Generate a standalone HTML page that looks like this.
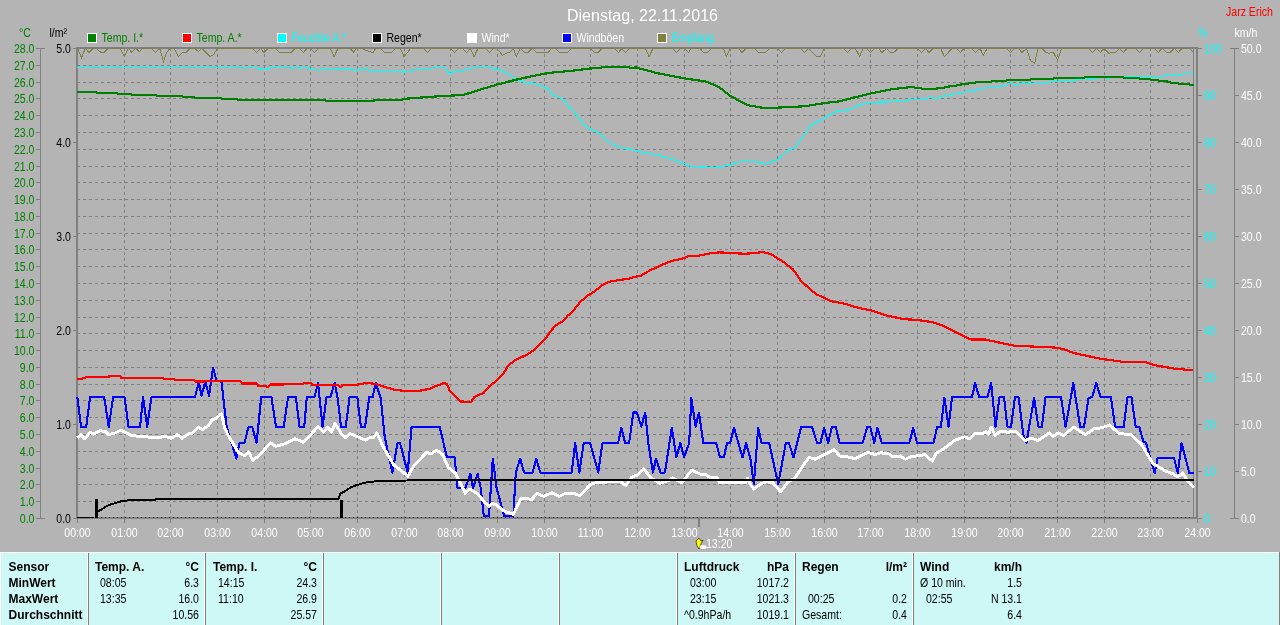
<!DOCTYPE html>
<html><head><meta charset="utf-8"><style>
html,body{margin:0;padding:0;background:#b4b4b4;width:1280px;height:625px;overflow:hidden}
svg{display:block;font-family:"Liberation Sans",sans-serif}
</style></head><body>
<svg style="will-change:transform" width="1280" height="625" viewBox="0 0 1280 625">
<rect width="1280" height="625" fill="#b4b4b4"/>
<path d="M77 65.5H1193 M77 82.5H1193 M77 98.5H1193 M77 115.5H1193 M77 132.5H1193 M77 149.5H1193 M77 166.5H1193 M77 182.5H1193 M77 199.5H1193 M77 216.5H1193 M77 233.5H1193 M77 249.5H1193 M77 266.5H1193 M77 283.5H1193 M77 300.5H1193 M77 317.5H1193 M77 333.5H1193 M77 350.5H1193 M77 367.5H1193 M77 384.5H1193 M77 400.5H1193 M77 417.5H1193 M77 434.5H1193 M77 451.5H1193 M77 468.5H1193 M77 484.5H1193 M77 501.5H1193" stroke="#808080" stroke-width="1" stroke-dasharray="3 3" fill="none"/>
<path d="M124.5 48V517 M170.5 48V517 M217.5 48V517 M264.5 48V517 M310.5 48V517 M357.5 48V517 M404.5 48V517 M450.5 48V517 M497.5 48V517 M544.5 48V517 M590.5 48V517 M637.5 48V517 M684.5 48V517 M730.5 48V517 M777.5 48V517 M824.5 48V517 M870.5 48V517 M917.5 48V517 M964.5 48V517 M1010.5 48V517 M1057.5 48V517 M1104.5 48V517 M1150.5 48V517" stroke="#808080" stroke-width="1" stroke-dasharray="3 3" fill="none"/>
<rect x="76" y="47" width="2" height="471" fill="#808080"/>
<rect x="76" y="47" width="1121" height="2" fill="#808080"/>
<rect x="1196" y="47" width="2" height="472" fill="#808080"/>
<rect x="1193" y="49" width="1" height="469" fill="#808080"/>
<rect x="73" y="518" width="1129" height="1" fill="#808080"/>
<rect x="76" y="517" width="1121" height="1" fill="#808080"/>
<rect x="73" y="48" width="3" height="1" fill="#808080"/>
<text transform="translate(71,53) scale(0.88,1)" fill="#000000" font-size="12" text-anchor="end" font-weight="normal" >5.0</text>
<rect x="73" y="142" width="3" height="1" fill="#808080"/>
<text transform="translate(71,147) scale(0.88,1)" fill="#000000" font-size="12" text-anchor="end" font-weight="normal" >4.0</text>
<rect x="73" y="236" width="3" height="1" fill="#808080"/>
<text transform="translate(71,241) scale(0.88,1)" fill="#000000" font-size="12" text-anchor="end" font-weight="normal" >3.0</text>
<rect x="73" y="330" width="3" height="1" fill="#808080"/>
<text transform="translate(71,335) scale(0.88,1)" fill="#000000" font-size="12" text-anchor="end" font-weight="normal" >2.0</text>
<rect x="73" y="424" width="3" height="1" fill="#808080"/>
<text transform="translate(71,429) scale(0.88,1)" fill="#000000" font-size="12" text-anchor="end" font-weight="normal" >1.0</text>
<rect x="73" y="518" width="3" height="1" fill="#808080"/>
<text transform="translate(71,523) scale(0.88,1)" fill="#000000" font-size="12" text-anchor="end" font-weight="normal" >0.0</text>
<rect x="40" y="48" width="1" height="471" fill="#808080"/>
<rect x="36" y="48" width="9" height="1" fill="#808080"/>
<text transform="translate(34.5,53) scale(0.88,1)" fill="#008000" font-size="12" text-anchor="end" font-weight="normal" >28.0</text>
<rect x="36" y="65" width="4" height="1" fill="#808080"/>
<text transform="translate(34.5,70) scale(0.88,1)" fill="#008000" font-size="12" text-anchor="end" font-weight="normal" >27.0</text>
<rect x="36" y="82" width="4" height="1" fill="#808080"/>
<text transform="translate(34.5,87) scale(0.88,1)" fill="#008000" font-size="12" text-anchor="end" font-weight="normal" >26.0</text>
<rect x="36" y="98" width="4" height="1" fill="#808080"/>
<text transform="translate(34.5,103) scale(0.88,1)" fill="#008000" font-size="12" text-anchor="end" font-weight="normal" >25.0</text>
<rect x="36" y="115" width="4" height="1" fill="#808080"/>
<text transform="translate(34.5,120) scale(0.88,1)" fill="#008000" font-size="12" text-anchor="end" font-weight="normal" >24.0</text>
<rect x="36" y="132" width="4" height="1" fill="#808080"/>
<text transform="translate(34.5,137) scale(0.88,1)" fill="#008000" font-size="12" text-anchor="end" font-weight="normal" >23.0</text>
<rect x="36" y="149" width="4" height="1" fill="#808080"/>
<text transform="translate(34.5,154) scale(0.88,1)" fill="#008000" font-size="12" text-anchor="end" font-weight="normal" >22.0</text>
<rect x="36" y="166" width="4" height="1" fill="#808080"/>
<text transform="translate(34.5,171) scale(0.88,1)" fill="#008000" font-size="12" text-anchor="end" font-weight="normal" >21.0</text>
<rect x="36" y="182" width="4" height="1" fill="#808080"/>
<text transform="translate(34.5,187) scale(0.88,1)" fill="#008000" font-size="12" text-anchor="end" font-weight="normal" >20.0</text>
<rect x="36" y="199" width="4" height="1" fill="#808080"/>
<text transform="translate(34.5,204) scale(0.88,1)" fill="#008000" font-size="12" text-anchor="end" font-weight="normal" >19.0</text>
<rect x="36" y="216" width="4" height="1" fill="#808080"/>
<text transform="translate(34.5,221) scale(0.88,1)" fill="#008000" font-size="12" text-anchor="end" font-weight="normal" >18.0</text>
<rect x="36" y="233" width="4" height="1" fill="#808080"/>
<text transform="translate(34.5,238) scale(0.88,1)" fill="#008000" font-size="12" text-anchor="end" font-weight="normal" >17.0</text>
<rect x="36" y="249" width="4" height="1" fill="#808080"/>
<text transform="translate(34.5,254) scale(0.88,1)" fill="#008000" font-size="12" text-anchor="end" font-weight="normal" >16.0</text>
<rect x="36" y="266" width="4" height="1" fill="#808080"/>
<text transform="translate(34.5,271) scale(0.88,1)" fill="#008000" font-size="12" text-anchor="end" font-weight="normal" >15.0</text>
<rect x="36" y="283" width="4" height="1" fill="#808080"/>
<text transform="translate(34.5,288) scale(0.88,1)" fill="#008000" font-size="12" text-anchor="end" font-weight="normal" >14.0</text>
<rect x="36" y="300" width="4" height="1" fill="#808080"/>
<text transform="translate(34.5,305) scale(0.88,1)" fill="#008000" font-size="12" text-anchor="end" font-weight="normal" >13.0</text>
<rect x="36" y="317" width="4" height="1" fill="#808080"/>
<text transform="translate(34.5,322) scale(0.88,1)" fill="#008000" font-size="12" text-anchor="end" font-weight="normal" >12.0</text>
<rect x="36" y="333" width="4" height="1" fill="#808080"/>
<text transform="translate(34.5,338) scale(0.88,1)" fill="#008000" font-size="12" text-anchor="end" font-weight="normal" >11.0</text>
<rect x="36" y="350" width="4" height="1" fill="#808080"/>
<text transform="translate(34.5,355) scale(0.88,1)" fill="#008000" font-size="12" text-anchor="end" font-weight="normal" >10.0</text>
<rect x="36" y="367" width="4" height="1" fill="#808080"/>
<text transform="translate(34.5,372) scale(0.88,1)" fill="#008000" font-size="12" text-anchor="end" font-weight="normal" >9.0</text>
<rect x="36" y="384" width="4" height="1" fill="#808080"/>
<text transform="translate(34.5,389) scale(0.88,1)" fill="#008000" font-size="12" text-anchor="end" font-weight="normal" >8.0</text>
<rect x="36" y="400" width="4" height="1" fill="#808080"/>
<text transform="translate(34.5,405) scale(0.88,1)" fill="#008000" font-size="12" text-anchor="end" font-weight="normal" >7.0</text>
<rect x="36" y="417" width="4" height="1" fill="#808080"/>
<text transform="translate(34.5,422) scale(0.88,1)" fill="#008000" font-size="12" text-anchor="end" font-weight="normal" >6.0</text>
<rect x="36" y="434" width="4" height="1" fill="#808080"/>
<text transform="translate(34.5,439) scale(0.88,1)" fill="#008000" font-size="12" text-anchor="end" font-weight="normal" >5.0</text>
<rect x="36" y="451" width="4" height="1" fill="#808080"/>
<text transform="translate(34.5,456) scale(0.88,1)" fill="#008000" font-size="12" text-anchor="end" font-weight="normal" >4.0</text>
<rect x="36" y="468" width="4" height="1" fill="#808080"/>
<text transform="translate(34.5,473) scale(0.88,1)" fill="#008000" font-size="12" text-anchor="end" font-weight="normal" >3.0</text>
<rect x="36" y="484" width="4" height="1" fill="#808080"/>
<text transform="translate(34.5,489) scale(0.88,1)" fill="#008000" font-size="12" text-anchor="end" font-weight="normal" >2.0</text>
<rect x="36" y="501" width="4" height="1" fill="#808080"/>
<text transform="translate(34.5,506) scale(0.88,1)" fill="#008000" font-size="12" text-anchor="end" font-weight="normal" >1.0</text>
<rect x="36" y="518" width="9" height="1" fill="#808080"/>
<text transform="translate(34.5,523) scale(0.88,1)" fill="#008000" font-size="12" text-anchor="end" font-weight="normal" >0.0</text>
<rect x="1234" y="48" width="1" height="471" fill="#808080"/>
<rect x="1198" y="48" width="4" height="1" fill="#808080"/>
<rect x="1230" y="48" width="9" height="1" fill="#808080"/>
<text transform="translate(1204,53) scale(0.88,1)" fill="#00ffff" font-size="12" text-anchor="start" font-weight="normal" >100</text>
<text transform="translate(1241,53) scale(0.88,1)" fill="#ffffff" font-size="12" text-anchor="start" font-weight="normal" >50.0</text>
<rect x="1198" y="95" width="4" height="1" fill="#808080"/>
<rect x="1235" y="95" width="4" height="1" fill="#808080"/>
<text transform="translate(1204,100) scale(0.88,1)" fill="#00ffff" font-size="12" text-anchor="start" font-weight="normal" >90</text>
<text transform="translate(1241,100) scale(0.88,1)" fill="#ffffff" font-size="12" text-anchor="start" font-weight="normal" >45.0</text>
<rect x="1198" y="142" width="4" height="1" fill="#808080"/>
<rect x="1235" y="142" width="4" height="1" fill="#808080"/>
<text transform="translate(1204,147) scale(0.88,1)" fill="#00ffff" font-size="12" text-anchor="start" font-weight="normal" >80</text>
<text transform="translate(1241,147) scale(0.88,1)" fill="#ffffff" font-size="12" text-anchor="start" font-weight="normal" >40.0</text>
<rect x="1198" y="189" width="4" height="1" fill="#808080"/>
<rect x="1235" y="189" width="4" height="1" fill="#808080"/>
<text transform="translate(1204,194) scale(0.88,1)" fill="#00ffff" font-size="12" text-anchor="start" font-weight="normal" >70</text>
<text transform="translate(1241,194) scale(0.88,1)" fill="#ffffff" font-size="12" text-anchor="start" font-weight="normal" >35.0</text>
<rect x="1198" y="236" width="4" height="1" fill="#808080"/>
<rect x="1235" y="236" width="4" height="1" fill="#808080"/>
<text transform="translate(1204,241) scale(0.88,1)" fill="#00ffff" font-size="12" text-anchor="start" font-weight="normal" >60</text>
<text transform="translate(1241,241) scale(0.88,1)" fill="#ffffff" font-size="12" text-anchor="start" font-weight="normal" >30.0</text>
<rect x="1198" y="283" width="4" height="1" fill="#808080"/>
<rect x="1235" y="283" width="4" height="1" fill="#808080"/>
<text transform="translate(1204,288) scale(0.88,1)" fill="#00ffff" font-size="12" text-anchor="start" font-weight="normal" >50</text>
<text transform="translate(1241,288) scale(0.88,1)" fill="#ffffff" font-size="12" text-anchor="start" font-weight="normal" >25.0</text>
<rect x="1198" y="330" width="4" height="1" fill="#808080"/>
<rect x="1235" y="330" width="4" height="1" fill="#808080"/>
<text transform="translate(1204,335) scale(0.88,1)" fill="#00ffff" font-size="12" text-anchor="start" font-weight="normal" >40</text>
<text transform="translate(1241,335) scale(0.88,1)" fill="#ffffff" font-size="12" text-anchor="start" font-weight="normal" >20.0</text>
<rect x="1198" y="377" width="4" height="1" fill="#808080"/>
<rect x="1235" y="377" width="4" height="1" fill="#808080"/>
<text transform="translate(1204,382) scale(0.88,1)" fill="#00ffff" font-size="12" text-anchor="start" font-weight="normal" >30</text>
<text transform="translate(1241,382) scale(0.88,1)" fill="#ffffff" font-size="12" text-anchor="start" font-weight="normal" >15.0</text>
<rect x="1198" y="424" width="4" height="1" fill="#808080"/>
<rect x="1235" y="424" width="4" height="1" fill="#808080"/>
<text transform="translate(1204,429) scale(0.88,1)" fill="#00ffff" font-size="12" text-anchor="start" font-weight="normal" >20</text>
<text transform="translate(1241,429) scale(0.88,1)" fill="#ffffff" font-size="12" text-anchor="start" font-weight="normal" >10.0</text>
<rect x="1198" y="471" width="4" height="1" fill="#808080"/>
<rect x="1235" y="471" width="4" height="1" fill="#808080"/>
<text transform="translate(1204,476) scale(0.88,1)" fill="#00ffff" font-size="12" text-anchor="start" font-weight="normal" >10</text>
<text transform="translate(1241,476) scale(0.88,1)" fill="#ffffff" font-size="12" text-anchor="start" font-weight="normal" >5.0</text>
<rect x="1198" y="518" width="4" height="1" fill="#808080"/>
<rect x="1230" y="518" width="9" height="1" fill="#808080"/>
<text transform="translate(1204,523) scale(0.88,1)" fill="#00ffff" font-size="12" text-anchor="start" font-weight="normal" >0</text>
<text transform="translate(1241,523) scale(0.88,1)" fill="#ffffff" font-size="12" text-anchor="start" font-weight="normal" >0.0</text>
<rect x="77" y="519" width="1" height="4" fill="#808080"/>
<text transform="translate(77.5,537) scale(0.88,1)" fill="#ffffff" font-size="12" text-anchor="middle" font-weight="normal" >00:00</text>
<rect x="124" y="519" width="1" height="4" fill="#808080"/>
<text transform="translate(124.5,537) scale(0.88,1)" fill="#ffffff" font-size="12" text-anchor="middle" font-weight="normal" >01:00</text>
<rect x="170" y="519" width="1" height="4" fill="#808080"/>
<text transform="translate(170.5,537) scale(0.88,1)" fill="#ffffff" font-size="12" text-anchor="middle" font-weight="normal" >02:00</text>
<rect x="217" y="519" width="1" height="4" fill="#808080"/>
<text transform="translate(217.5,537) scale(0.88,1)" fill="#ffffff" font-size="12" text-anchor="middle" font-weight="normal" >03:00</text>
<rect x="264" y="519" width="1" height="4" fill="#808080"/>
<text transform="translate(264.5,537) scale(0.88,1)" fill="#ffffff" font-size="12" text-anchor="middle" font-weight="normal" >04:00</text>
<rect x="310" y="519" width="1" height="4" fill="#808080"/>
<text transform="translate(310.5,537) scale(0.88,1)" fill="#ffffff" font-size="12" text-anchor="middle" font-weight="normal" >05:00</text>
<rect x="357" y="519" width="1" height="4" fill="#808080"/>
<text transform="translate(357.5,537) scale(0.88,1)" fill="#ffffff" font-size="12" text-anchor="middle" font-weight="normal" >06:00</text>
<rect x="404" y="519" width="1" height="4" fill="#808080"/>
<text transform="translate(404.5,537) scale(0.88,1)" fill="#ffffff" font-size="12" text-anchor="middle" font-weight="normal" >07:00</text>
<rect x="450" y="519" width="1" height="4" fill="#808080"/>
<text transform="translate(450.5,537) scale(0.88,1)" fill="#ffffff" font-size="12" text-anchor="middle" font-weight="normal" >08:00</text>
<rect x="497" y="519" width="1" height="4" fill="#808080"/>
<text transform="translate(497.5,537) scale(0.88,1)" fill="#ffffff" font-size="12" text-anchor="middle" font-weight="normal" >09:00</text>
<rect x="544" y="519" width="1" height="4" fill="#808080"/>
<text transform="translate(544.5,537) scale(0.88,1)" fill="#ffffff" font-size="12" text-anchor="middle" font-weight="normal" >10:00</text>
<rect x="590" y="519" width="1" height="4" fill="#808080"/>
<text transform="translate(590.5,537) scale(0.88,1)" fill="#ffffff" font-size="12" text-anchor="middle" font-weight="normal" >11:00</text>
<rect x="637" y="519" width="1" height="4" fill="#808080"/>
<text transform="translate(637.5,537) scale(0.88,1)" fill="#ffffff" font-size="12" text-anchor="middle" font-weight="normal" >12:00</text>
<rect x="684" y="519" width="1" height="4" fill="#808080"/>
<text transform="translate(684.5,537) scale(0.88,1)" fill="#ffffff" font-size="12" text-anchor="middle" font-weight="normal" >13:00</text>
<rect x="730" y="519" width="1" height="4" fill="#808080"/>
<text transform="translate(730.5,537) scale(0.88,1)" fill="#ffffff" font-size="12" text-anchor="middle" font-weight="normal" >14:00</text>
<rect x="777" y="519" width="1" height="4" fill="#808080"/>
<text transform="translate(777.5,537) scale(0.88,1)" fill="#ffffff" font-size="12" text-anchor="middle" font-weight="normal" >15:00</text>
<rect x="824" y="519" width="1" height="4" fill="#808080"/>
<text transform="translate(824.5,537) scale(0.88,1)" fill="#ffffff" font-size="12" text-anchor="middle" font-weight="normal" >16:00</text>
<rect x="870" y="519" width="1" height="4" fill="#808080"/>
<text transform="translate(870.5,537) scale(0.88,1)" fill="#ffffff" font-size="12" text-anchor="middle" font-weight="normal" >17:00</text>
<rect x="917" y="519" width="1" height="4" fill="#808080"/>
<text transform="translate(917.5,537) scale(0.88,1)" fill="#ffffff" font-size="12" text-anchor="middle" font-weight="normal" >18:00</text>
<rect x="964" y="519" width="1" height="4" fill="#808080"/>
<text transform="translate(964.5,537) scale(0.88,1)" fill="#ffffff" font-size="12" text-anchor="middle" font-weight="normal" >19:00</text>
<rect x="1010" y="519" width="1" height="4" fill="#808080"/>
<text transform="translate(1010.5,537) scale(0.88,1)" fill="#ffffff" font-size="12" text-anchor="middle" font-weight="normal" >20:00</text>
<rect x="1057" y="519" width="1" height="4" fill="#808080"/>
<text transform="translate(1057.5,537) scale(0.88,1)" fill="#ffffff" font-size="12" text-anchor="middle" font-weight="normal" >21:00</text>
<rect x="1104" y="519" width="1" height="4" fill="#808080"/>
<text transform="translate(1104.5,537) scale(0.88,1)" fill="#ffffff" font-size="12" text-anchor="middle" font-weight="normal" >22:00</text>
<rect x="1150" y="519" width="1" height="4" fill="#808080"/>
<text transform="translate(1150.5,537) scale(0.88,1)" fill="#ffffff" font-size="12" text-anchor="middle" font-weight="normal" >23:00</text>
<rect x="1197" y="519" width="1" height="4" fill="#808080"/>
<text transform="translate(1197.5,537) scale(0.88,1)" fill="#ffffff" font-size="12" text-anchor="middle" font-weight="normal" >24:00</text>
<text transform="translate(19,37) scale(0.88,1)" fill="#008000" font-size="12" text-anchor="start" font-weight="normal" >°C</text>
<text transform="translate(49.5,37) scale(0.88,1)" fill="#000000" font-size="12" text-anchor="start" font-weight="normal" >l/m²</text>
<text transform="translate(1198,37) scale(0.88,1)" fill="#00ffff" font-size="12" text-anchor="start" font-weight="normal" >%</text>
<text transform="translate(1234.5,37) scale(0.88,1)" fill="#ffffff" font-size="12" text-anchor="start" font-weight="normal" >km/h</text>
<text transform="translate(567,21) scale(1.0,1)" fill="#ffffff" font-size="16" text-anchor="start" font-weight="normal" >Dienstag, 22.11.2016</text>
<text transform="translate(1226,16) scale(0.88,1)" fill="#ff0000" font-size="12" text-anchor="start" font-weight="normal" >Jarz Erich</text>
<rect x="87" y="33" width="10" height="10" fill="#ffffff"/>
<rect x="88" y="34" width="8" height="8" fill="#008000"/>
<text transform="translate(101.5,42) scale(0.88,1)" fill="#008000" font-size="12" text-anchor="start" font-weight="normal" >Temp. I.*</text>
<rect x="182" y="33" width="10" height="10" fill="#ffffff"/>
<rect x="183" y="34" width="8" height="8" fill="#ff0000"/>
<text transform="translate(196.5,42) scale(0.88,1)" fill="#008000" font-size="12" text-anchor="start" font-weight="normal" >Temp. A.*</text>
<rect x="277" y="33" width="10" height="10" fill="#ffffff"/>
<rect x="278" y="34" width="8" height="8" fill="#00ffff"/>
<text transform="translate(291.5,42) scale(0.88,1)" fill="#00ffff" font-size="12" text-anchor="start" font-weight="normal" >Feuchte A.*</text>
<rect x="372" y="33" width="10" height="10" fill="#ffffff"/>
<rect x="373" y="34" width="8" height="8" fill="#000000"/>
<text transform="translate(386.5,42) scale(0.88,1)" fill="#000000" font-size="12" text-anchor="start" font-weight="normal" >Regen*</text>
<rect x="467" y="33" width="10" height="10" fill="#ffffff"/>
<rect x="468" y="34" width="8" height="8" fill="#ffffff"/>
<text transform="translate(481.5,42) scale(0.88,1)" fill="#ffffff" font-size="12" text-anchor="start" font-weight="normal" >Wind*</text>
<rect x="562" y="33" width="10" height="10" fill="#ffffff"/>
<rect x="563" y="34" width="8" height="8" fill="#0000ff"/>
<text transform="translate(576.5,42) scale(0.88,1)" fill="#ffffff" font-size="12" text-anchor="start" font-weight="normal" >Windböen</text>
<rect x="657" y="33" width="10" height="10" fill="#ffffff"/>
<rect x="658" y="34" width="8" height="8" fill="#808040"/>
<text transform="translate(671.5,42) scale(0.88,1)" fill="#00ffff" font-size="12" text-anchor="start" font-weight="normal" >Empfang</text>
<path shape-rendering="crispEdges" d="M77.6 48.4 L81.5 57.7 L85.3 48.4 L89.1 52.5 L93.0 48.4 L96.2 48.4 L100.6 52.2 L104.4 52.2 L108.3 48.4 L120.3 48.4 L124.1 56.0 L128.5 48.4 L131.8 52.5 L135.6 48.4 L139.4 51.7 L142.7 48.4 L151.5 48.4 L155.8 52.5 L159.7 48.4 L163.5 61.5 L166.8 52.2 L170.1 48.4 L174.4 48.4 L178.3 56.6 L182.6 52.2 L186.5 52.2 L190.3 48.4 L194.7 48.4 L198.5 51.7 L201.8 48.4 L210.0 56.6 L213.3 54.9 L217.6 48.4 L252.6 48.4 L256.5 52.5 L260.3 48.4 L264.1 52.5 L268.0 48.4 L275.6 48.4 L279.4 52.2 L291.5 52.2 L295.3 48.4 L299.7 48.4 L303.5 52.5 L306.8 48.4 L310.6 48.4 L314.4 52.5 L318.3 48.4 L330.3 48.4 L334.1 56.6 L338.0 48.4 L350.0 48.4 L353.8 52.5 L356.0 48.4 L362.6 48.4 L365.8 50.3 L369.1 51.4 L373.0 52.5 L375.7 48.4 L380.6 48.4 L384.4 52.2 L392.1 52.2 L395.9 48.4 L400.3 48.4 L404.1 56.6 L410.7 48.4 L423.8 48.4 L427.6 52.5 L431.5 48.4 L450.6 48.4 L454.4 52.5 L458.3 48.4 L462.6 48.4 L466.5 52.5 L470.3 48.4 L474.1 56.6 L478.0 48.4 L485.6 48.4 L489.4 52.5 L493.3 48.4 L496.0 48.4 L498.2 50.0 L502.6 55.5 L505.8 53.3 L509.7 52.2 L513.5 48.4 L516.2 56.6 L520.1 48.4 L524.4 52.2 L528.3 52.2 L532.1 48.4 L536.5 52.2 L548.5 52.2 L551.2 48.4 L555.6 48.4 L559.4 52.2 L567.6 52.2 L571.5 48.4 L590.6 48.4 L594.4 52.2 L598.3 52.2 L602.1 48.4 L614.7 48.4 L618.5 52.5 L621.8 48.4 L625.6 52.5 L629.4 48.4 L645.3 48.4 L649.1 56.6 L653.0 48.4 L672.6 48.4 L676.5 52.5 L680.3 48.4 L684.7 48.4 L688.5 52.5 L691.2 48.4 L700.0 48.4 L703.3 52.2 L707.6 52.2 L711.5 48.4 L723.5 48.4 L726.2 56.6 L730.1 48.4 L738.3 48.4 L742.1 52.5 L745.9 48.4 L754.7 48.4 L758.5 52.2 L765.6 52.2 L769.4 48.4 L777.6 48.4 L781.5 52.5 L785.3 48.4 L800.6 48.4 L804.4 52.5 L808.3 48.4 L816.5 56.6 L820.3 56.6 L824.1 48.4 L843.8 48.4 L847.6 52.5 L851.5 48.4 L855.3 48.4 L859.7 56.6 L863.0 48.4 L866.8 48.4 L870.6 52.5 L874.4 48.4 L878.3 48.4 L882.1 52.5 L886.5 48.4 L890.3 52.2 L894.1 52.2 L898.0 48.4 L917.6 48.4 L921.5 52.5 L925.3 48.4 L929.1 52.5 L933.0 48.4 L940.6 48.4 L944.4 56.6 L952.1 48.4 L956.5 48.4 L960.3 52.5 L964.1 48.4 L971.8 48.4 L975.6 52.5 L980.0 48.4 L983.3 55.5 L987.1 48.4 L1006.8 48.4 L1010.6 52.5 L1014.4 48.4 L1018.3 48.4 L1022.1 52.5 L1026.5 48.4 L1030.3 60.4 L1034.7 63.1 L1038.0 48.4 L1041.8 48.4 L1045.6 52.2 L1049.4 53.3 L1053.3 52.2 L1057.6 60.4 L1059.3 54.9 L1061.5 48.4 L1088.3 48.4 L1092.6 52.5 L1096.5 48.4 L1100.3 52.5 L1104.1 48.4 L1109.0 53.6 L1110.7 52.2 L1115.6 52.2 L1119.4 48.4 L1123.3 52.5 L1127.1 48.4 L1135.3 48.4 L1139.7 52.5 L1143.5 48.4 L1154.4 48.4 L1158.3 52.5 L1162.1 48.4 L1166.5 52.2 L1170.3 52.2 L1174.1 48.4 L1178.5 52.5 L1181.8 48.4 L1189.4 48.4 L1192.7 51.7" stroke="#808040" stroke-width="1" fill="none"/>
<path shape-rendering="crispEdges" d="M77.0 67.4 L243.0 67.4 L243.5 68.3 L246.8 68.3 L247.2 67.4 L257.6 67.4 L258.5 69.0 L261.8 69.0 L262.2 68.3 L267.0 68.3 L267.9 69.4 L271.6 66.4 L273.5 66.4 L274.4 67.4 L289.9 67.4 L290.4 68.3 L292.7 68.3 L293.2 67.4 L297.9 67.4 L298.3 68.3 L300.7 68.3 L301.1 67.4 L308.2 67.4 L308.6 69.2 L316.6 69.2 L317.1 70.2 L319.9 70.2 L320.4 69.2 L323.6 69.2 L324.1 68.3 L336.8 68.3 L337.2 69.2 L339.6 69.2 L340.0 68.3 L343.8 68.3 L344.2 69.2 L346.6 69.2 L347.0 68.3 L350.8 68.3 L351.3 69.2 L353.2 69.2 L353.6 70.2 L356.0 70.4 L359.3 69.6 L363.7 68.2 L366.4 68.2 L369.1 70.4 L378.4 70.4 L379.5 71.3 L397.6 71.3 L398.7 70.4 L401.4 70.4 L404.7 72.6 L406.9 71.3 L409.6 71.3 L410.7 70.4 L412.9 70.4 L414.0 69.3 L420.5 69.3 L421.6 68.4 L432.6 68.4 L433.7 67.4 L443.5 67.4 L445.7 68.7 L450.3 74.2 L452.8 72.2 L455.0 71.3 L459.4 71.3 L460.4 70.4 L463.7 70.4 L464.8 69.3 L468.1 69.3 L468.7 68.4 L471.9 68.4 L472.5 67.4 L491.6 67.4 L492.7 68.4 L496.0 69.0 L500.4 70.1 L506.9 73.0 L511.3 75.8 L514.6 78.2 L520.1 81.0 L525.5 82.6 L534.3 83.4 L539.7 85.6 L545.2 87.3 L548.5 89.5 L551.8 93.3 L557.2 97.1 L562.7 98.7 L567.6 104.8 L577.0 115.5 L585.7 126.4 L601.0 134.5 L606.5 140.6 L618.5 147.2 L636.0 150.5 L646.9 153.3 L657.9 154.9 L675.4 160.3 L690.7 166.2 L699.4 166.9 L714.8 167.5 L727.9 165.4 L741.0 161.4 L754.1 161.4 L765.1 164.3 L778.2 159.2 L789.1 149.4 L794.6 148.3 L811.0 125.3 L822.0 119.9 L826.3 116.6 L837.3 111.1 L850.4 109.6 L857.0 105.6 L870.1 102.3 L887.6 101.9 L916.0 99.3 L922.6 99.3 L923.1 98.4 L926.9 98.4 L927.5 97.4 L931.9 97.4 L932.4 98.4 L937.3 98.4 L937.9 97.4 L940.6 97.4 L941.2 96.5 L942.8 96.5 L943.4 95.4 L946.6 95.4 L947.7 96.5 L948.8 95.4 L951.0 95.4 L951.6 94.3 L953.7 94.3 L954.3 93.3 L958.1 93.3 L958.7 92.4 L964.7 92.4 L965.2 91.3 L966.9 91.3 L967.4 90.2 L969.6 90.2 L971.2 91.6 L972.9 90.2 L975.1 90.2 L975.6 89.1 L977.3 89.1 L977.8 88.3 L984.9 88.3 L985.5 87.3 L997.0 87.3 L997.5 86.4 L1001.3 86.4 L1001.9 85.3 L1004.6 85.3 L1005.2 84.2 L1007.9 84.2 L1008.5 83.3 L1012.8 83.3 L1013.4 84.2 L1019.4 84.2 L1019.9 83.3 L1028.7 83.3 L1029.8 84.2 L1031.4 83.3 L1035.8 83.3 L1036.3 82.4 L1050.6 82.4 L1051.1 81.3 L1056.0 81.3 L1073.5 81.4 L1074.0 80.5 L1075.7 80.5 L1076.2 79.4 L1081.7 79.4 L1085.0 78.3 L1086.6 78.3 L1087.2 79.4 L1089.4 79.4 L1089.9 78.7 L1098.1 78.7 L1099.0 77.5 L1106.0 77.5 L1106.9 78.7 L1109.6 78.7 L1110.5 77.0 L1132.6 77.0 L1133.1 76.3 L1163.8 76.3 L1164.3 75.4 L1167.6 75.4 L1168.1 74.3 L1172.5 74.3 L1173.1 75.4 L1179.6 75.4 L1180.2 74.3 L1182.9 74.3 L1183.5 73.4 L1191.7 73.4 L1192.8 74.8" stroke="#00ffff" stroke-width="1.2" fill="none"/>
<path shape-rendering="crispEdges" d="M77.0 92.0 L96.0 92.0 L97.0 93.0 L117.0 93.0 L118.0 94.0 L131.0 94.0 L132.0 95.0 L156.0 95.0 L157.0 96.0 L182.0 96.0 L183.0 97.0 L194.0 97.0 L195.0 98.0 L221.0 98.0 L222.0 99.0 L237.0 99.0 L238.0 99.6 L325.0 99.6 L326.0 100.8 L373.5 101.0 L374.5 100.0 L400.3 100.0 L404.7 98.8 L415.6 98.0 L427.6 97.0 L443.5 96.0 L462.1 95.0 L466.5 93.9 L470.8 92.8 L475.2 91.2 L479.6 89.7 L485.0 88.2 L489.4 86.8 L493.8 85.7 L496.0 84.7 L502.6 83.2 L510.2 81.2 L517.9 79.3 L528.8 76.9 L539.7 74.7 L549.6 72.8 L559.4 72.0 L568.2 71.1 L580.2 69.8 L587.9 68.7 L598.8 67.9 L607.6 66.7 L628.3 66.7 L629.4 67.8 L636.0 67.5 L657.9 73.3 L684.1 78.3 L706.0 81.6 L719.1 87.0 L730.0 95.8 L747.6 105.2 L762.9 107.8 L773.8 107.8 L804.5 106.3 L826.3 102.8 L839.5 101.3 L854.8 97.3 L870.1 93.6 L892.0 89.2 L911.6 87.0 L916.0 87.8 L920.9 87.8 L921.5 88.8 L936.8 88.8 L937.3 87.8 L944.4 87.8 L945.0 86.7 L948.8 86.7 L949.4 85.9 L956.5 85.9 L957.0 84.8 L960.9 84.8 L961.4 83.7 L968.5 83.7 L969.0 82.9 L975.6 82.9 L976.2 81.8 L991.5 81.8 L992.0 80.7 L1006.8 80.7 L1007.3 79.6 L1030.9 79.6 L1031.4 78.8 L1053.3 78.8 L1053.8 77.9 L1056.0 77.9 L1084.4 77.9 L1085.0 76.8 L1123.3 76.8 L1123.8 77.9 L1139.1 77.9 L1139.7 79.0 L1150.1 79.0 L1150.6 79.8 L1158.3 79.8 L1158.8 80.9 L1166.5 80.9 L1167.0 82.0 L1170.3 82.0 L1170.8 83.1 L1178.0 83.1 L1178.5 83.9 L1188.9 83.9 L1189.5 84.9 L1193.9 84.9" stroke="#008000" stroke-width="2.2" fill="none" stroke-linejoin="round"/>
<path shape-rendering="crispEdges" d="M77.3 397.1 L81.1 427.0 L86.2 427.0 L90.1 397.1 L104.2 397.1 L108.8 427.0 L113.1 397.1 L124.6 397.1 L128.5 427.0 L140.0 427.0 L143.1 397.1 L147.2 427.0 L151.5 397.1 L195.0 397.1 L198.9 381.8 L201.4 395.8 L205.3 381.8 L209.1 395.8 L213.1 367.7 L216.4 380.5 L221.5 381.8 L226.6 426.6 L230.5 439.4 L236.4 458.6 L239.4 443.0 L244.6 443.0 L248.4 427.0 L252.2 427.0 L256.6 443.0 L261.2 397.1 L271.4 397.1 L276.0 427.0 L283.7 427.0 L288.1 397.1 L295.8 397.1 L299.6 427.0 L304.2 427.0 L306.8 397.1 L314.5 397.1 L318.0 383.0 L322.6 427.0 L326.5 397.1 L330.3 397.1 L334.7 383.0 L337.5 397.1 L341.1 427.0 L345.7 427.0 L349.6 397.1 L357.3 397.1 L360.9 427.0 L365.0 427.0 L369.3 397.1 L372.6 397.1 L375.7 383.0 L380.8 398.4 L384.7 436.8 L392.4 472.6 L397.5 443.0 L400.0 443.0 L407.7 472.6 L411.6 427.0 L439.7 427.0 L446.9 457.3 L454.6 457.3 L457.6 488.0 L465.3 488.0 L470.4 473.9 L473.0 488.0 L477.6 473.9 L480.7 488.0 L483.8 516.2 L489.0 516.2 L492.8 458.6 L496.6 488.0 L504.3 516.2 L513.3 516.2 L515.8 472.6 L520.2 458.6 L524.0 472.6 L532.5 472.6 L536.3 458.6 L540.2 472.6 L571.7 472.6 L575.2 443.0 L579.3 472.6 L583.7 443.0 L590.1 443.0 L598.3 472.6 L602.4 443.0 L618.1 443.0 L621.4 427.8 L625.2 443.0 L629.1 443.0 L633.4 412.5 L636.8 412.5 L641.4 426.6 L645.2 412.5 L648.3 443.0 L652.9 472.6 L656.0 458.6 L660.6 472.6 L664.9 472.6 L671.8 427.8 L676.4 457.3 L680.3 443.0 L684.1 457.3 L689.2 443.0 L691.3 397.9 L695.6 426.6 L699.0 412.5 L703.3 443.0 L716.1 443.0 L720.0 457.3 L723.8 457.3 L727.1 443.0 L730.2 443.0 L734.0 427.8 L742.5 457.3 L746.1 443.0 L750.7 460.0 L753.8 484.2 L758.2 427.8 L761.5 443.0 L769.2 443.0 L778.2 484.2 L785.8 443.0 L788.9 443.0 L793.5 457.3 L801.2 427.0 L812.0 427.0 L817.1 443.0 L820.4 443.0 L824.2 427.8 L828.1 443.0 L831.9 427.0 L835.8 427.0 L839.6 443.0 L862.6 443.0 L867.3 427.0 L870.3 427.0 L874.2 443.0 L877.5 427.8 L881.8 443.0 L909.3 443.0 L913.2 427.8 L917.0 443.0 L933.6 443.0 L937.0 427.0 L940.8 427.0 L944.4 397.9 L948.5 427.0 L952.1 397.1 L972.0 397.1 L975.1 383.0 L979.2 397.1 L987.4 397.1 L991.2 383.0 L995.6 427.0 L999.4 397.1 L1004.0 397.1 L1007.4 427.0 L1011.0 427.0 L1015.0 397.1 L1018.6 397.1 L1023.2 434.2 L1026.4 443.0 L1034.1 397.9 L1038.4 427.0 L1041.8 427.0 L1045.6 397.1 L1061.0 397.1 L1065.6 427.0 L1073.3 383.0 L1080.2 427.0 L1084.0 427.0 L1088.6 397.9 L1092.2 397.1 L1096.3 383.0 L1100.6 397.1 L1110.9 397.1 L1115.2 427.0 L1123.7 427.0 L1127.5 397.1 L1131.4 397.1 L1135.7 427.0 L1139.4 427.0 L1143.2 441.3 L1146.1 443.0 L1154.7 473.0 L1157.6 457.6 L1173.9 457.6 L1177.8 473.0 L1181.6 443.0 L1189.3 473.0 L1193.7 473.0" stroke="#0000ff" stroke-width="2.1" fill="none" stroke-linejoin="round"/>
<path shape-rendering="crispEdges" d="M77.4 437.6 L80.8 434.8 L84.8 438.9 L90.3 432.1 L93.7 434.1 L99.8 430.7 L105.3 431.4 L108.7 434.6 L115.5 432.8 L120.9 430.0 L127.7 433.5 L131.8 435.5 L144.0 436.9 L160.4 437.3 L164.4 436.2 L171.2 438.2 L177.4 434.6 L182.1 438.2 L188.9 433.5 L191.6 434.0 L198.4 427.3 L202.5 429.4 L208.7 425.3 L212.0 419.9 L216.0 418.5 L221.4 413.7 L224.8 428.0 L228.2 435.5 L238.4 452.4 L244.6 455.9 L248.7 451.8 L252.7 460.6 L259.5 455.2 L265.0 449.0 L270.4 442.9 L275.9 446.3 L285.4 443.6 L294.9 438.8 L303.1 442.2 L311.2 434.0 L318.0 426.7 L323.5 432.1 L327.6 427.3 L331.6 432.1 L335.0 423.3 L341.2 433.5 L345.3 437.6 L350.0 433.5 L356.0 436.2 L365.4 440.1 L370.4 437.2 L373.3 437.9 L376.9 432.9 L383.4 447.3 L393.5 464.6 L407.9 476.1 L413.6 466.0 L426.6 452.3 L430.9 453.8 L436.7 450.2 L442.5 454.5 L448.2 467.5 L455.4 473.2 L465.5 493.4 L469.8 489.1 L477.0 493.4 L488.6 506.4 L492.2 503.5 L496.0 504.9 L504.6 511.4 L513.3 514.3 L521.2 498.4 L532.0 499.2 L537.1 493.4 L543.6 496.3 L552.2 492.7 L559.4 496.3 L565.2 493.4 L573.8 493.4 L579.6 495.6 L591.1 484.0 L596.9 482.6 L619.9 481.2 L625.7 485.5 L631.6 477.3 L638.0 474.7 L643.7 468.8 L650.8 477.8 L659.8 483.4 L668.8 480.3 L672.6 477.8 L681.6 482.9 L691.8 470.1 L700.0 474.0 L704.8 474.0 L709.6 477.2 L716.8 477.2 L719.4 482.8 L745.6 482.8 L747.5 478.5 L749.5 482.8 L753.8 489.0 L761.5 483.5 L766.6 481.6 L773.0 482.9 L780.7 491.8 L787.1 482.9 L794.8 477.8 L808.9 457.3 L815.3 459.3 L824.2 454.7 L834.5 449.6 L839.6 456.0 L847.3 456.8 L855.0 458.6 L867.8 452.2 L875.4 454.7 L880.6 452.7 L890.0 454.2 L892.7 456.8 L900.4 456.0 L905.5 459.3 L910.6 456.8 L924.7 454.7 L932.4 461.1 L936.2 453.4 L946.4 447.0 L954.1 440.6 L964.4 436.8 L969.5 438.9 L975.9 433.0 L982.3 433.7 L986.1 431.7 L988.7 434.2 L991.2 427.0 L995.1 435.5 L1000.2 431.2 L1007.9 432.2 L1015.6 431.2 L1025.0 440.6 L1031.5 438.1 L1037.9 440.6 L1049.4 433.0 L1053.3 436.3 L1058.4 433.0 L1063.5 435.5 L1073.8 427.0 L1085.3 434.8 L1094.2 428.6 L1101.9 427.8 L1109.6 425.0 L1119.2 433.6 L1130.7 434.6 L1141.3 444.2 L1152.8 463.4 L1157.6 466.2 L1165.3 471.0 L1173.0 473.9 L1177.8 476.8 L1182.6 473.0 L1187.4 480.6 L1193.7 487.4" stroke="#ffffff" stroke-width="3" fill="none" stroke-linejoin="round"/>
<path shape-rendering="crispEdges" d="M97 517.5 H1193" stroke="#000" stroke-width="1" stroke-dasharray="1 3" fill="none"/>
<path shape-rendering="crispEdges" d="M77 517.5 H94" stroke="#000" stroke-width="1.2" fill="none"/>
<path shape-rendering="crispEdges" d="M96.5 518 V499" stroke="#000" stroke-width="3" fill="none"/>
<path shape-rendering="crispEdges" d="M97.9 511.3 L101.8 509.3 L107.3 505.8 L111.2 504.2 L116.6 502.7 L121.3 501.3 L125.2 500.7 L132.3 499.8 L155.7 499.8 L156.5 498.9 L338.3 498.9 L340.6 493.4 L344.4 491.6 L350.9 487.3 L355.6 485.5 L365.0 482.7 L370.6 481.7 L380.9 481.1 L415.6 480.3 L416.6 480.0 L1193.7 480.0" stroke="#000" stroke-width="2" fill="none"/>
<path shape-rendering="crispEdges" d="M341.6 518 V499.5" stroke="#000" stroke-width="3" fill="none"/>
<path shape-rendering="crispEdges" d="M77.0 379.0 L81.4 379.0 L86.2 377.2 L108.7 377.2 L109.3 376.0 L120.2 376.0 L120.9 377.7 L163.0 377.7 L163.8 378.8 L174.0 378.8 L174.6 380.1 L194.4 380.1 L195.0 381.5 L216.0 381.3 L240.5 381.3 L241.9 383.4 L256.8 383.4 L258.2 385.9 L265.0 386.0 L267.7 387.2 L270.4 384.5 L284.0 384.5 L285.0 383.8 L303.1 383.8 L303.8 382.9 L311.2 382.9 L312.6 385.2 L338.4 385.2 L339.5 386.8 L341.2 386.8 L342.5 384.9 L356.0 384.9 L366.9 382.9 L375.0 383.8 L394.1 389.7 L405.0 391.0 L418.6 391.0 L429.5 388.8 L436.3 385.9 L444.4 382.9 L447.2 384.5 L449.9 391.0 L460.8 401.5 L471.0 401.9 L474.4 397.0 L483.9 392.7 L489.3 386.1 L496.0 381.1 L502.5 374.8 L508.7 365.1 L515.7 359.9 L521.9 356.7 L524.5 356.3 L535.1 349.3 L545.6 338.7 L550.0 331.7 L556.2 325.0 L563.2 321.1 L567.6 315.8 L572.0 312.3 L580.2 302.1 L586.6 296.3 L593.0 292.5 L602.0 285.4 L609.7 281.6 L618.7 280.1 L628.9 278.8 L634.0 276.9 L640.4 275.9 L649.4 270.7 L663.5 264.1 L672.4 260.7 L682.7 258.6 L689.1 256.0 L699.3 255.6 L710.0 253.4 L719.5 252.4 L731.1 253.0 L745.5 253.8 L762.8 252.1 L771.4 254.4 L782.9 261.6 L793.0 269.4 L801.7 281.8 L816.1 294.2 L831.9 301.4 L843.4 303.4 L857.8 307.7 L872.2 310.6 L886.6 315.5 L903.9 319.2 L916.0 319.8 L931.8 322.1 L943.4 325.9 L970.7 339.4 L985.1 339.4 L990.9 340.8 L1014.0 345.7 L1054.3 347.5 L1062.9 348.9 L1074.5 353.2 L1100.4 358.7 L1123.4 361.9 L1146.5 362.4 L1155.1 365.3 L1175.3 368.8 L1192.6 370.2" stroke="#ff0000" stroke-width="2.2" fill="none" stroke-linejoin="round"/>
<rect x="698" y="518" width="2" height="9" fill="#808080"/>
<path d="M696 541 L699 538 L701 541 L703 540 L700 546 L699 549 L697 546 Z" fill="#ffff00" stroke="#000" stroke-width="0.6"/>
<ellipse cx="703" cy="547" rx="3.5" ry="2" fill="#ffffff"/>
<text transform="translate(706,548) scale(0.88,1)" fill="#ffffff" font-size="12" text-anchor="start" font-weight="normal" >13:20</text>
<rect x="0" y="552" width="1280" height="73" fill="#ffffff"/>
<rect x="1" y="553" width="1278" height="72" fill="#cef8f6"/>
<rect x="1279" y="552" width="1" height="73" fill="#808080"/>
<rect x="87" y="553" width="1" height="72" fill="#ffffff"/>
<rect x="88" y="553" width="1" height="72" fill="#808080"/>
<rect x="204" y="553" width="1" height="72" fill="#ffffff"/>
<rect x="205" y="553" width="1" height="72" fill="#808080"/>
<rect x="322" y="553" width="1" height="72" fill="#ffffff"/>
<rect x="323" y="553" width="1" height="72" fill="#808080"/>
<rect x="440" y="553" width="1" height="72" fill="#ffffff"/>
<rect x="441" y="553" width="1" height="72" fill="#808080"/>
<rect x="558" y="553" width="1" height="72" fill="#ffffff"/>
<rect x="559" y="553" width="1" height="72" fill="#808080"/>
<rect x="676" y="553" width="1" height="72" fill="#ffffff"/>
<rect x="677" y="553" width="1" height="72" fill="#808080"/>
<rect x="794" y="553" width="1" height="72" fill="#ffffff"/>
<rect x="795" y="553" width="1" height="72" fill="#808080"/>
<rect x="912" y="553" width="1" height="72" fill="#ffffff"/>
<rect x="913" y="553" width="1" height="72" fill="#808080"/>
<text transform="translate(8.5,571) scale(1.0,1)" fill="#000000" font-size="12" text-anchor="start" font-weight="bold" >Sensor</text>
<text transform="translate(8.5,587) scale(1.0,1)" fill="#000000" font-size="12" text-anchor="start" font-weight="bold" >MinWert</text>
<text transform="translate(8.5,603) scale(1.0,1)" fill="#000000" font-size="12" text-anchor="start" font-weight="bold" >MaxWert</text>
<text transform="translate(8.5,619) scale(1.0,1)" fill="#000000" font-size="12" text-anchor="start" font-weight="bold" >Durchschnitt</text>
<text transform="translate(95,571) scale(1.0,1)" fill="#000000" font-size="12" text-anchor="start" font-weight="bold" >Temp. A.</text>
<text transform="translate(199,571) scale(1.0,1)" fill="#000000" font-size="12" text-anchor="end" font-weight="bold" >°C</text>
<text transform="translate(100,587) scale(0.88,1)" fill="#000000" font-size="12" text-anchor="start" font-weight="normal" >08:05</text>
<text transform="translate(199,587) scale(0.88,1)" fill="#000000" font-size="12" text-anchor="end" font-weight="normal" >6.3</text>
<text transform="translate(100,603) scale(0.88,1)" fill="#000000" font-size="12" text-anchor="start" font-weight="normal" >13:35</text>
<text transform="translate(199,603) scale(0.88,1)" fill="#000000" font-size="12" text-anchor="end" font-weight="normal" >16.0</text>
<text transform="translate(199,619) scale(0.88,1)" fill="#000000" font-size="12" text-anchor="end" font-weight="normal" >10.56</text>
<text transform="translate(213,571) scale(1.0,1)" fill="#000000" font-size="12" text-anchor="start" font-weight="bold" >Temp. I.</text>
<text transform="translate(317,571) scale(1.0,1)" fill="#000000" font-size="12" text-anchor="end" font-weight="bold" >°C</text>
<text transform="translate(218,587) scale(0.88,1)" fill="#000000" font-size="12" text-anchor="start" font-weight="normal" >14:15</text>
<text transform="translate(317,587) scale(0.88,1)" fill="#000000" font-size="12" text-anchor="end" font-weight="normal" >24.3</text>
<text transform="translate(218,603) scale(0.88,1)" fill="#000000" font-size="12" text-anchor="start" font-weight="normal" >11:10</text>
<text transform="translate(317,603) scale(0.88,1)" fill="#000000" font-size="12" text-anchor="end" font-weight="normal" >26.9</text>
<text transform="translate(317,619) scale(0.88,1)" fill="#000000" font-size="12" text-anchor="end" font-weight="normal" >25.57</text>
<text transform="translate(684,571) scale(1.0,1)" fill="#000000" font-size="12" text-anchor="start" font-weight="bold" >Luftdruck</text>
<text transform="translate(789,571) scale(1.0,1)" fill="#000000" font-size="12" text-anchor="end" font-weight="bold" >hPa</text>
<text transform="translate(690,587) scale(0.88,1)" fill="#000000" font-size="12" text-anchor="start" font-weight="normal" >03:00</text>
<text transform="translate(789,587) scale(0.88,1)" fill="#000000" font-size="12" text-anchor="end" font-weight="normal" >1017.2</text>
<text transform="translate(690,603) scale(0.88,1)" fill="#000000" font-size="12" text-anchor="start" font-weight="normal" >23:15</text>
<text transform="translate(789,603) scale(0.88,1)" fill="#000000" font-size="12" text-anchor="end" font-weight="normal" >1021.3</text>
<text transform="translate(684,619) scale(0.88,1)" fill="#000000" font-size="12" text-anchor="start" font-weight="normal" >^0.9hPa/h</text>
<text transform="translate(789,619) scale(0.88,1)" fill="#000000" font-size="12" text-anchor="end" font-weight="normal" >1019.1</text>
<text transform="translate(802,571) scale(1.0,1)" fill="#000000" font-size="12" text-anchor="start" font-weight="bold" >Regen</text>
<text transform="translate(907,571) scale(1.0,1)" fill="#000000" font-size="12" text-anchor="end" font-weight="bold" >l/m²</text>
<text transform="translate(808,603) scale(0.88,1)" fill="#000000" font-size="12" text-anchor="start" font-weight="normal" >00:25</text>
<text transform="translate(907,603) scale(0.88,1)" fill="#000000" font-size="12" text-anchor="end" font-weight="normal" >0.2</text>
<text transform="translate(802,619) scale(0.88,1)" fill="#000000" font-size="12" text-anchor="start" font-weight="normal" >Gesamt:</text>
<text transform="translate(907,619) scale(0.88,1)" fill="#000000" font-size="12" text-anchor="end" font-weight="normal" >0.4</text>
<text transform="translate(920,571) scale(1.0,1)" fill="#000000" font-size="12" text-anchor="start" font-weight="bold" >Wind</text>
<text transform="translate(1022,571) scale(1.0,1)" fill="#000000" font-size="12" text-anchor="end" font-weight="bold" >km/h</text>
<text transform="translate(920,587) scale(0.88,1)" fill="#000000" font-size="12" text-anchor="start" font-weight="normal" >Ø 10 min.</text>
<text transform="translate(1022,587) scale(0.88,1)" fill="#000000" font-size="12" text-anchor="end" font-weight="normal" >1.5</text>
<text transform="translate(926,603) scale(0.88,1)" fill="#000000" font-size="12" text-anchor="start" font-weight="normal" >02:55</text>
<text transform="translate(1022,603) scale(0.88,1)" fill="#000000" font-size="12" text-anchor="end" font-weight="normal" >N 13.1</text>
<text transform="translate(1022,619) scale(0.88,1)" fill="#000000" font-size="12" text-anchor="end" font-weight="normal" >6.4</text>
</svg></body></html>
